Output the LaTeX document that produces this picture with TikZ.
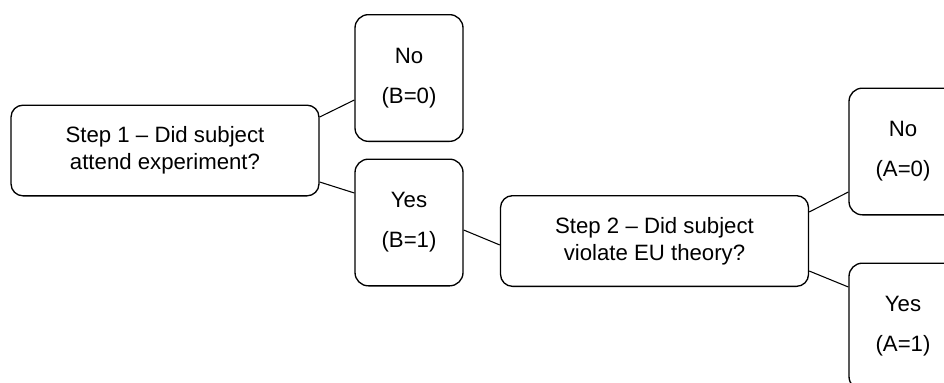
\documentclass[tikz,border=0pt]{standalone}
\usepackage{fontspec}
\setmainfont{Liberation Sans}
\usepackage{tikz}
\usetikzlibrary{calc}
\usetikzlibrary{shapes}
\tikzset{
  question/.style={draw, line width=1pt, rounded corners=9pt, align=center,
    minimum width=231pt, minimum height=68pt, inner sep=0pt,
    font={\fontsize{16.65}{20.25}\selectfont}},
  answer/.style={draw, line width=1pt, rounded corners=10pt, align=center,
    minimum width=81pt, minimum height=95pt, inner sep=0pt,
    font={\fontsize{16.65}{30}\selectfont}},
  branch/.style={line width=0.8pt}
}

\begin{document}
\begin{tikzpicture}[x=0.75pt, y=-0.75pt]
        \clip (0,0) rectangle (944,382);
        % step 1
        \node[question] (step1) at (165,150.5) {Step 1 – Did subject\\attend experiment?};
        \node[answer] (noB) at (409,78) {No\\(B=0)};
        \node[answer] (yesB) at (409,222.5) {Yes\\(B=1)};
        % step 2
        \node[question] (step2) at (654.5,241) {Step 2 – Did subject\\violate EU theory?};
        \node[answer] (noA) at (903,151.5) {No\\(A=0)};
        \node[answer] (yesA) at (903,326.5) {Yes\\(A=1)};
        % branches
        \draw[branch] ($(step1.east)+(0,-33.5)$) -- ($(noB.west)+(0,22)$);
        \draw[branch] ($(step1.east)+(0,31.5)$) -- ($(yesB.west)+(0,-29.5)$);
        \draw[branch] ($(yesB.east)+(0,7.5)$) -- ($(step2.west)+(0,4)$);
        \draw[branch] ($(step2.east)+(0,-29)$) -- ($(noA.west)+(0,40.5)$);
        \draw[branch] ($(step2.east)+(0,30)$) -- ($(yesA.west)+(0,-39.5)$);
    \end{tikzpicture}
\end{document}
